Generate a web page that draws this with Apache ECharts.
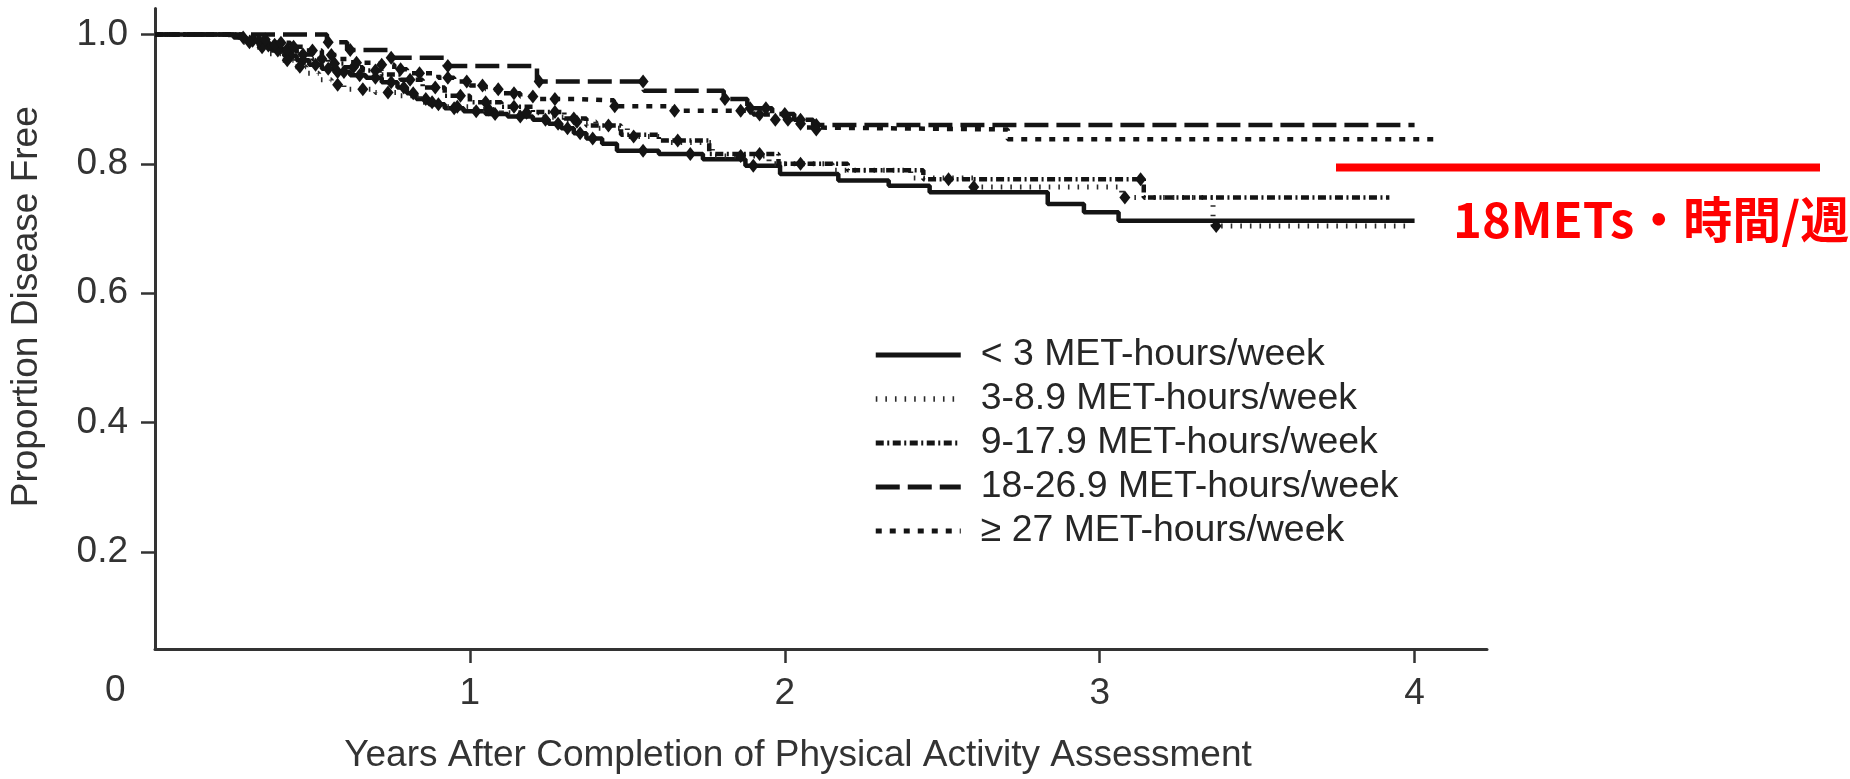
<!DOCTYPE html>
<html>
<head>
<meta charset="utf-8">
<title>Disease-free survival by physical activity</title>
<script src="https://cdn.jsdelivr.net/npm/echarts@6/dist/echarts.min.js"></script>
<style>
  html, body { margin: 0; padding: 0; background: #ffffff; }
  #chart { width: 1850px; height: 779px; }
</style>
</head>
<body>
<div id="chart"></div>
<script>
// Activity groups (legend order)
const groupNames = [
  '< 3 MET-hours/week',
  '3-8.9 MET-hours/week',
  '9-17.9 MET-hours/week',
  '18-26.9 MET-hours/week',
  '\u2265 27 MET-hours/week'
];

// Kaplan-Meier estimates: event times (years) and proportion disease free from that time on
const timesLt3 = [0, 0.25, 0.29, 0.33, 0.37, 0.41, 0.45, 0.49, 0.53, 0.57, 0.62, 0.67, 0.72, 0.77, 0.80, 0.83, 0.87, 0.92, 0.98, 1.05, 1.12, 1.20, 1.25, 1.29, 1.33, 1.37, 1.42, 1.467, 1.60, 1.74, 1.875, 1.985, 2.17, 2.33, 2.46, 2.835, 2.95, 3.06, 4.0];
const survLt3  = [1, 0.995, 0.99, 0.983, 0.975, 0.967, 0.960, 0.953, 0.947, 0.942, 0.937, 0.933, 0.926, 0.918, 0.909, 0.900, 0.892, 0.886, 0.881, 0.877, 0.873, 0.868, 0.862, 0.855, 0.847, 0.839, 0.831, 0.820, 0.815, 0.807, 0.797, 0.784, 0.774, 0.766, 0.756, 0.738, 0.725, 0.712, 0.712];

const times3to9 = [0, 0.24, 0.28, 0.32, 0.36, 0.40, 0.44, 0.48, 0.52, 0.56, 0.60, 0.70, 0.78, 0.84, 0.90, 1.00, 1.10, 1.22, 1.30, 1.40, 1.50, 1.62, 1.77, 1.95, 2.15, 2.40, 2.60, 3.07, 3.36, 3.97];
const surv3to9  = [1, 0.995, 0.988, 0.980, 0.970, 0.960, 0.950, 0.940, 0.930, 0.922, 0.915, 0.910, 0.905, 0.895, 0.888, 0.884, 0.879, 0.872, 0.865, 0.855, 0.842, 0.833, 0.812, 0.800, 0.790, 0.778, 0.764, 0.748, 0.704, 0.704];

const times9to18 = [0, 0.26, 0.30, 0.35, 0.40, 0.45, 0.50, 0.55, 0.60, 0.66, 0.72, 0.78, 0.85, 0.92, 1.00, 1.10, 1.20, 1.30, 1.37, 1.48, 1.60, 1.76, 1.98, 2.20, 2.44, 3.14, 3.92];
const surv9to18  = [1, 0.996, 0.990, 0.984, 0.977, 0.969, 0.962, 0.955, 0.949, 0.944, 0.938, 0.930, 0.918, 0.905, 0.895, 0.888, 0.880, 0.870, 0.859, 0.845, 0.836, 0.815, 0.800, 0.790, 0.776, 0.748, 0.748];

const times18to27 = [0, 0.546, 0.61, 0.747, 0.92, 1.213, 1.552, 1.806, 1.881, 1.96, 2.03, 2.09, 4.0];
const surv18to27  = [1, 0.988, 0.976, 0.964, 0.951, 0.927, 0.913, 0.900, 0.886, 0.877, 0.868, 0.860, 0.860];

const timesGe27 = [0, 0.28, 0.33, 0.38, 0.43, 0.48, 0.53, 0.58, 0.63, 0.70, 0.76, 0.80, 0.90, 0.95, 1.00, 1.05, 1.10, 1.16, 1.22, 1.35, 1.457, 1.648, 1.90, 1.96, 2.02, 2.06, 2.09, 2.708, 4.06];
const survGe27  = [1, 0.996, 0.992, 0.987, 0.981, 0.975, 0.968, 0.962, 0.956, 0.953, 0.946, 0.940, 0.933, 0.927, 0.921, 0.915, 0.909, 0.904, 0.900, 0.898, 0.889, 0.882, 0.876, 0.868, 0.862, 0.856, 0.853, 0.838, 0.838];

// Censoring times (years) for each group
const censorLt3    = [0.28, 0.31, 0.34, 0.36, 0.39, 0.43, 0.47, 0.51, 0.55, 0.58, 0.60, 0.65, 0.70, 0.75, 0.79, 0.82, 0.86, 0.90, 0.95, 1.02, 1.08, 1.16, 1.24, 1.28, 1.31, 1.35, 1.39, 1.55, 1.70, 1.90];
const censor3to9   = [0.30, 0.34, 0.42, 0.46, 0.58, 0.66, 0.74, 0.88, 0.96, 1.06, 1.18, 1.34, 1.52, 1.86, 2.60, 3.08, 3.37];
const censor9to18  = [0.33, 0.38, 0.42, 0.47, 0.53, 0.57, 0.63, 0.70, 0.81, 0.89, 0.97, 1.05, 1.14, 1.27, 1.33, 1.44, 1.66, 1.92, 2.05, 2.52, 3.13];
const censor18to27 = [0.55, 0.62, 0.75, 0.93, 1.22, 1.55, 1.81, 1.89, 1.94, 2.00, 2.05, 2.10];
const censorGe27   = [0.35, 0.40, 0.44, 0.50, 0.56, 0.64, 0.72, 0.78, 0.84, 0.93, 0.99, 1.04, 1.09, 1.14, 1.20, 1.27, 1.46, 1.65, 1.86, 1.92, 1.97, 2.01, 2.05, 2.10];

// Axis ticks
const xTicks = [1, 2, 3, 4];
const yTicks = [0.2, 0.4, 0.6, 0.8, 1.0];

// Annotation
const noteText = '18METs\u30FB\u6642\u9593/\u9031';

const ink = '#141414';
const axisInk = '#333333';
const fontFamily = '"Liberation Sans", Arial, Helvetica, sans-serif';

const groups = [
  { name: groupNames[0], times: timesLt3,    surv: survLt3,    censor: censorLt3,    line: { width: 4.5, type: 'solid', color: ink } },
  { name: groupNames[1], times: times3to9,   surv: surv3to9,   censor: censor3to9,   line: { width: 5,   type: [1.6, 8], color: '#2a2a2a' } },
  { name: groupNames[2], times: times9to18,  surv: surv9to18,  censor: censor9to18,  line: { width: 4.5, type: [8, 3.5, 2, 3.5], color: ink } },
  { name: groupNames[3], times: times18to27, surv: surv18to27, censor: censor18to27, line: { width: 4.5, type: [24, 8], color: ink } },
  { name: groupNames[4], times: timesGe27,   surv: survGe27,   censor: censorGe27,   line: { width: 4.5, type: [6, 8], color: ink } }
];

// proportion disease free at time t (right-continuous step function)
function survivalAt(times, surv, t) {
  let s = surv[0];
  for (let i = 0; i < times.length; i++) {
    if (times[i] <= t) s = surv[i];
  }
  return s;
}

const series = [];
groups.forEach(function (g) {
  series.push({
    name: g.name,
    type: 'line',
    step: 'end',
    symbol: 'none',
    silent: true,
    data: g.times.map(function (t, i) { return [t, g.surv[i]]; }),
    lineStyle: { color: g.line.color, width: g.line.width, type: g.line.type, cap: 'butt' },
    itemStyle: { color: g.line.color },
    z: 3
  });
});
groups.forEach(function (g) {
  series.push({
    name: g.name + ' censored',
    type: 'scatter',
    symbol: 'diamond',
    symbolSize: [11, 14],
    silent: true,
    itemStyle: { color: ink, opacity: 1 },
    data: g.censor.map(function (t) { return [t, survivalAt(g.times, g.surv, t)]; }),
    z: 4
  });
});

// legend entries: line sample only, no marker
const legendData = groups.map(function (g) {
  return {
    name: g.name,
    itemStyle: { color: 'rgba(0,0,0,0)', borderWidth: 0, opacity: 0 },
    lineStyle: { color: g.line.color, width: g.line.width + 0.5, type: g.line.type, cap: 'butt' }
  };
});

const chart = echarts.init(document.getElementById('chart'), null, { renderer: 'canvas' });

chart.setOption({
  animation: false,
  backgroundColor: '#ffffff',
  grid: { left: 155, right: 363, top: 8.5, bottom: 127.5, containLabel: false },
  xAxis: {
    type: 'value',
    min: 0,
    max: 4.23,
    name: 'Years After Completion of Physical Activity Assessment',
    nameLocation: 'middle',
    nameGap: 88,
    nameTextStyle: { fontFamily: fontFamily, fontSize: 37, color: axisInk, padding: [0, 46, 0, 0] },
    axisLine: { show: true, onZero: false, lineStyle: { color: axisInk, width: 3 } },
    axisTick: { show: true, length: 14, customValues: xTicks, lineStyle: { color: axisInk, width: 2.5 } },
    axisLabel: { customValues: xTicks, margin: 26, fontFamily: fontFamily, fontSize: 37, color: axisInk },
    splitLine: { show: false }
  },
  yAxis: {
    type: 'value',
    min: 0.05,
    max: 1.04,
    name: 'Proportion Disease Free',
    nameLocation: 'middle',
    nameRotate: 90,
    nameGap: 110,
    nameTextStyle: { fontFamily: fontFamily, fontSize: 37, color: axisInk, padding: [0, 0, 0, 44] },
    axisLine: { show: true, onZero: false, lineStyle: { color: axisInk, width: 3 } },
    axisTick: { show: true, length: 14, customValues: yTicks, lineStyle: { color: axisInk, width: 2.5 } },
    axisLabel: {
      customValues: yTicks,
      margin: 27,
      fontFamily: fontFamily,
      fontSize: 37,
      color: axisInk,
      formatter: function (v) { return v.toFixed(1); }
    },
    splitLine: { show: false }
  },
  legend: {
    data: legendData,
    orient: 'vertical',
    left: 868,
    top: 328,
    itemWidth: 85,
    itemHeight: 14,
    itemGap: 0,
    selectedMode: false,
    textStyle: { fontFamily: fontFamily, fontSize: 37.4, color: '#262626', lineHeight: 44, padding: [0, 0, 0, 15] }
  },
  graphic: [
    {
      type: 'text',
      left: 105,
      top: 672,
      silent: true,
      style: { text: '0', fontFamily: fontFamily, fontSize: 37, fill: axisInk }
    },
    {
      type: 'line',
      silent: true,
      shape: { x1: 1336, y1: 167.5, x2: 1820, y2: 167.5 },
      style: { stroke: '#ff0000', lineWidth: 8 }
    },
    {
      type: 'text',
      x: 1453,
      y: 219,
      silent: true,
      style: {
        text: noteText,
        fontFamily: '"Noto Sans CJK JP", "Noto Sans CJK SC", sans-serif',
        fontWeight: 'bold',
        fontSize: 49,
        fill: '#ff0000',
        textAlign: 'left',
        textVerticalAlign: 'middle'
      }
    }
  ],
  series: series
});
</script>
</body>
</html>
